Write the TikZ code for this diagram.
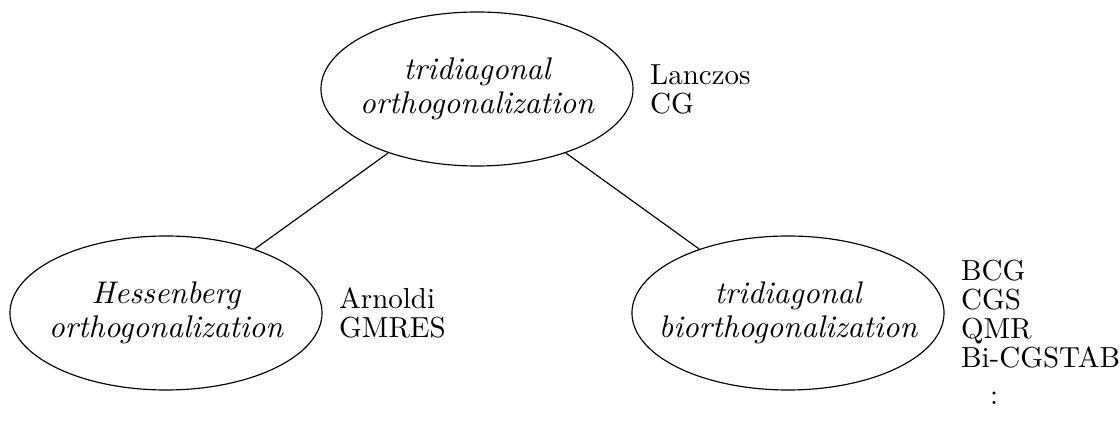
\documentclass[tikz,border=0pt]{standalone}
\usepackage{fontspec}
\usetikzlibrary{positioning, shapes.geometric}
\tikzset{
  oval/.style={draw, ellipse, minimum width=107.6pt, minimum height=53.1pt, inner sep=0pt},
  kind/.style={align=center, inner sep=0pt, font=\fontsize{10.8}{11.6}\selectfont\itshape},
  meth/.style={align=left, inner sep=0pt, font=\fontsize{10}{10}\selectfont},
}
\begin{document}
\begin{tikzpicture}[x=0.3448pt, y=0.3448pt, node distance=5.5pt]
\useasboundingbox (0,0) rectangle (1120,421);
% the three process families
\node[oval] (tri) at (477,332) {};
\node[oval] (hes) at (166,108) {};
\node[oval] (bi) at (788,108) {};
\node[kind] (triT) at (tri) {tridiagonal\\orthogonalization};
\node[kind] (hesT) at (hes) {Hessenberg\\orthogonalization};
\node[kind] (biT) at (bi) {tridiagonal\\biorthogonalization};
% methods built on each
\node[meth,right=of tri] (triM) {Lanczos\\CG};
\node[meth,right=of hes] (hesM) {Arnoldi\\GMRES};
\node[meth,right=of bi,yshift=-6.6pt] (biM) {BCG\\CGS\\QMR\\Bi-CGSTAB\\[3pt]\quad:};
\draw (tri)--(hes);\draw (tri)--(bi);
\end{tikzpicture}
\end{document}
